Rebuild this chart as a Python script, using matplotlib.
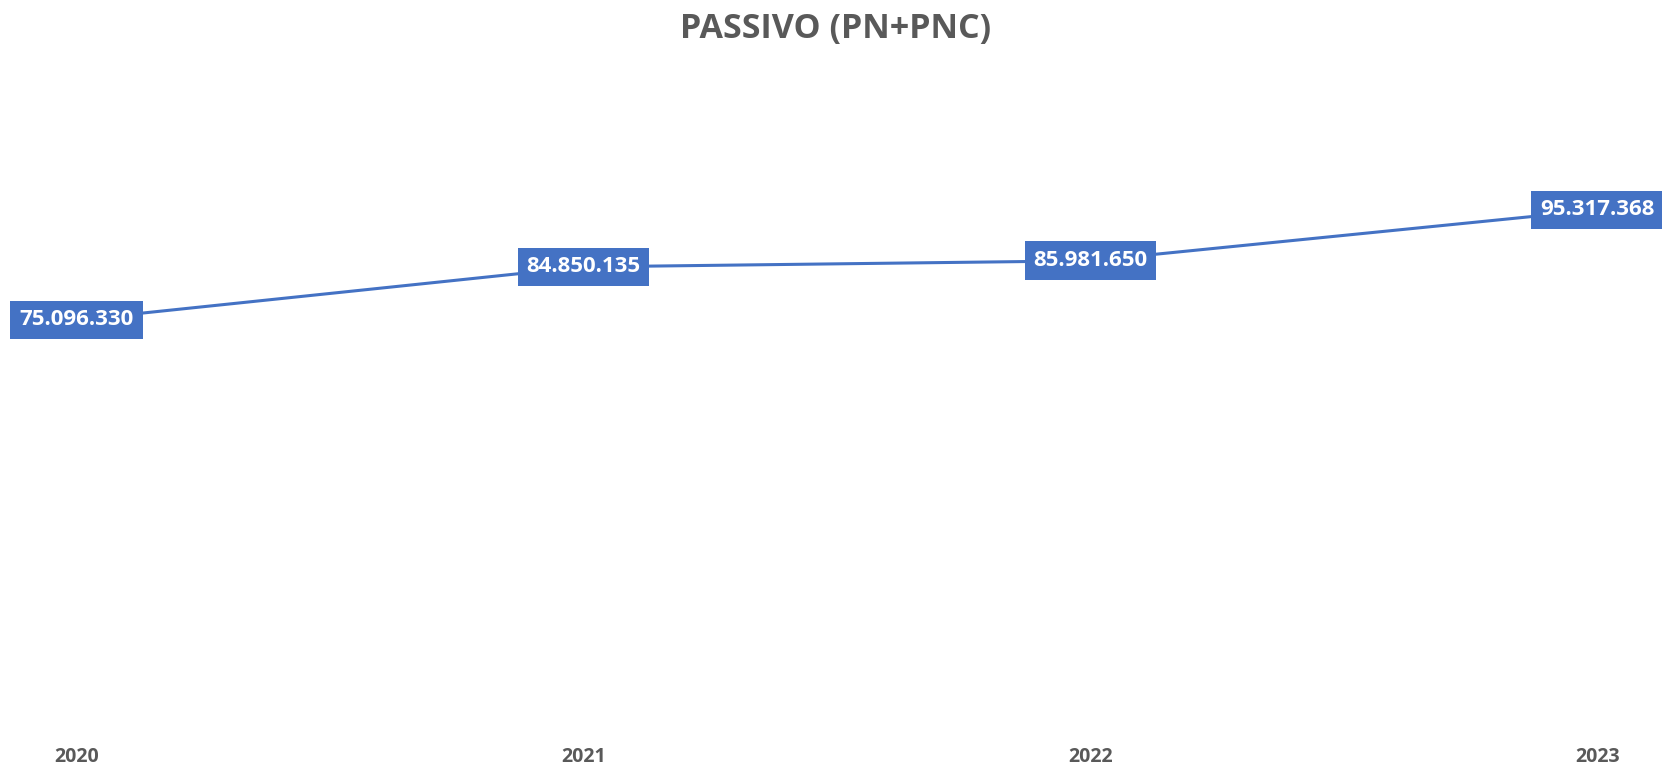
import matplotlib
matplotlib.use("Agg")
import matplotlib.pyplot as plt

years = ["2020", "2021", "2022", "2023"]
passivo = [75096330, 84850135, 85981650, 95317368]
labels = ["75.096.330", "84.850.135", "85.981.650", "95.317.368"]

blue = "#4472C4"
grey = "#595959"

plt.rcParams["font.family"] = ["Open Sans", "DejaVu Sans"]

fig = plt.figure(figsize=(16.62, 7.66), dpi=100)
ax = fig.add_axes([76.5 / 1662, 1 - 728.5 / 766, (1597.5 - 76.5) / 1662, (728.5 - 184.5) / 766])

x = list(range(len(years)))
ax.plot(x, passivo, color=blue, linewidth=2.2, solid_capstyle="round")

# data labels in blue boxes
for xi, v, lab in zip(x, passivo, labels):
    ax.text(xi, v, lab, ha="center", va="center", color="white", fontsize=16,
            fontweight="bold",
            bbox=dict(boxstyle="square,pad=0.4", facecolor=blue, edgecolor="none"))

ax.set_xlim(0, 3)
ax.set_ylim(0, 100e6)
ax.set_xticks(x)
ax.set_xticklabels(years, fontsize=14, fontweight="bold", color=grey)
ax.tick_params(axis="x", length=0, pad=13)
ax.set_yticks([])
for s in ax.spines.values():
    s.set_visible(False)

fig.text(0.503, 1 - 29 / 766, "PASSIVO (PN+PNC)", ha="center", va="center",
         fontsize=24.5, fontweight="bold", color=grey)

fig.savefig("out.png", dpi=100)
